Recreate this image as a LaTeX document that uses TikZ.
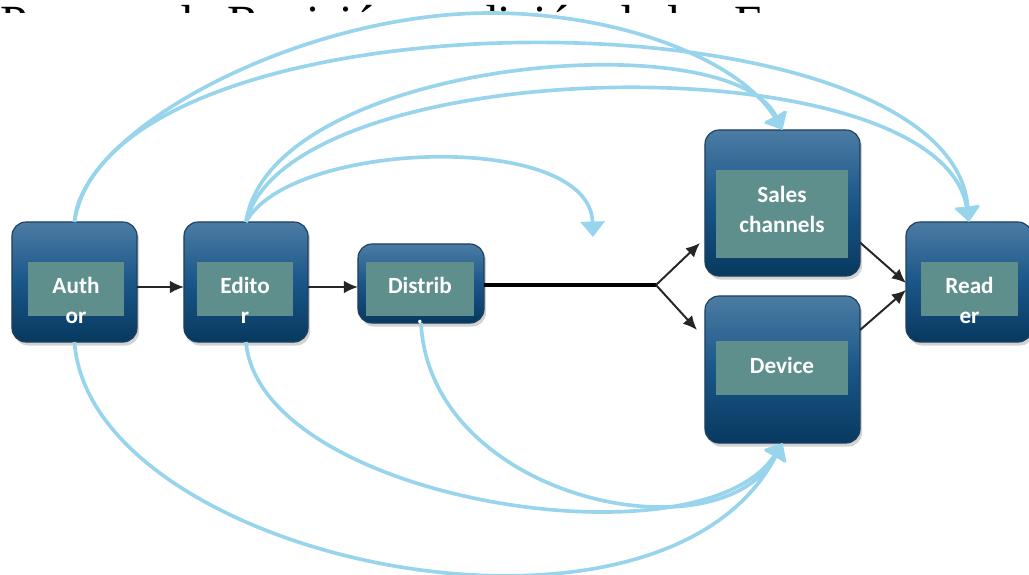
\documentclass[tikz,border=0pt]{standalone}
\usepackage{fontspec}
\setmainfont{Liberation Serif}
\newfontfamily\boxfont{Carlito}
\usepackage{tikz}
\usetikzlibrary{arrows.meta, positioning, calc, shadows}

\definecolor{curveblue}{HTML}{98D5EC}
\definecolor{labteal}{HTML}{5E8F8D}
\definecolor{boxtop}{HTML}{4B7CA4}
\definecolor{boxmid}{HTML}{1A5688}
\definecolor{boxbot}{HTML}{07395F}
\definecolor{boxedge}{HTML}{1E3F5E}

\begin{document}
\begin{tikzpicture}[
    x=0.025cm, y=-0.025cm,
    stage/.style={rectangle, rounded corners=10pt, draw=boxedge, line width=0.8pt,
                  top color=boxtop, bottom color=boxbot, middle color=boxmid,
                  inner sep=0pt, outer sep=0pt,
                  drop shadow={opacity=0.35, shadow xshift=1.5pt, shadow yshift=-2.5pt}},
    lab/.style={rectangle, fill=labteal, inner sep=0pt, minimum height=1.35cm},
    txt/.style={text=white, font=\boxfont\bfseries\fontsize{16.5}{21.3}\selectfont,
                align=center, inner sep=0pt},
    flow/.style={-{Latex[length=10pt,width=9pt]}, line width=1.4pt, black!85},
    feedback/.style={-{Triangle[length=11pt,width=17pt]}, line width=2.6pt, curveblue},
  ]
  \useasboundingbox (0,0) rectangle (1029,574);

  % title, only its top shows
  \begin{scope}
    \clip (0,0) rectangle (1029,12);
    \node[anchor=base west, inner sep=0pt, font=\fontsize{35}{40}\selectfont] (title) at (0,39)
      {Proceso de Revisión y edición de las E};
  \end{scope}

  % stages
  \node[stage, minimum width=3.125cm, minimum height=3cm] (author) at (74.5,282) {};
  \node[stage, minimum width=3.1cm, minimum height=3cm] (editor) at (246,282) {};
  \node[stage, minimum width=3.15cm, minimum height=1.975cm] (distrib) at (421,283.5) {};
  \node[stage, minimum width=3.875cm, minimum height=3.65cm] (sales) at (782.5,203) {};
  \node[stage, minimum width=3.875cm, minimum height=3.675cm] (device) at (782.5,369.5) {};
  \node[stage, minimum width=3.15cm, minimum height=3cm] (reader) at (969,282) {};

  \node[lab, minimum width=2.4cm] (authorlab) at (76,289) {};
  \node[lab, minimum width=2.4cm] (editorlab) at (245,289) {};
  \node[lab, minimum width=2.7cm] (distriblab) at (420,289) {};
  \node[lab, minimum width=3.3cm, minimum height=2.2cm] (saleslab) at (782,214) {};
  \node[lab, minimum width=3.3cm] (devicelab) at (782,368) {};
  \node[lab, minimum width=2.425cm] (readerlab) at (969.5,289) {};

  \node[txt] (authortxt) at (76,300) {Auth\\or};
  \node[txt] (editortxt) at (245,300) {Edito\\r};
  \node[txt] (distribtxt) at (420,300) {Distrib\\.};
  \node[txt] (salestxt) at (782,209) {Sales\\channels};
  \node[txt] (devicetxt) at (782,365) {Device};
  \node[txt] (readertxt) at (969.5,300) {Read\\er};

  % main flow
  \coordinate (mainline) at (0,287);
  \coordinate (split) at (656,285);
  \draw[flow] (author.east |- mainline) -- (editor.west |- mainline);
  \draw[flow] (editor.east |- mainline) -- (distrib.west |- mainline);
  \draw[line width=2.4pt] (distrib.east |- split) -- (split);
  \draw[flow] (split) -- ([shift={(-5,-33)}]sales.south west);
  \draw[flow] (split) -- ([shift={(-8,34)}]device.north west);
  \draw[flow] (sales.-27) -- ([shift={(0,1)}]reader.west);
  \draw[flow] (device.27) -- ([shift={(0,8)}]reader.west);

  % feedback arcs
  \coordinate (bend) at (593,237);
  \coordinate (topA) at (490,13);
  \draw[feedback] (author.north) .. controls (80,130) and (300,13) .. (topA)
                  .. controls (620,13) and (740,60) .. (sales.north);
  \draw[feedback] (author.north) .. controls (110,-15) and (950,-15) .. (reader.north);
  \draw[feedback] (editor.north) .. controls (270,60) and (730,20) .. (sales.north);
  \draw[feedback] (editor.north) .. controls (290,50) and (940,40) .. (reader.north);
  \draw[feedback] (editor.north) .. controls (290,140) and (590,130) .. (bend);
  \draw[feedback] (distrib.south) .. controls (430,500) and (720,560) .. (device.south);
  \draw[feedback] (editor.south) .. controls (260,500) and (700,570) .. (device.south);
  \draw[feedback] (author.south) .. controls (90,560) and (660,680) .. (device.south);
\end{tikzpicture}
\end{document}
